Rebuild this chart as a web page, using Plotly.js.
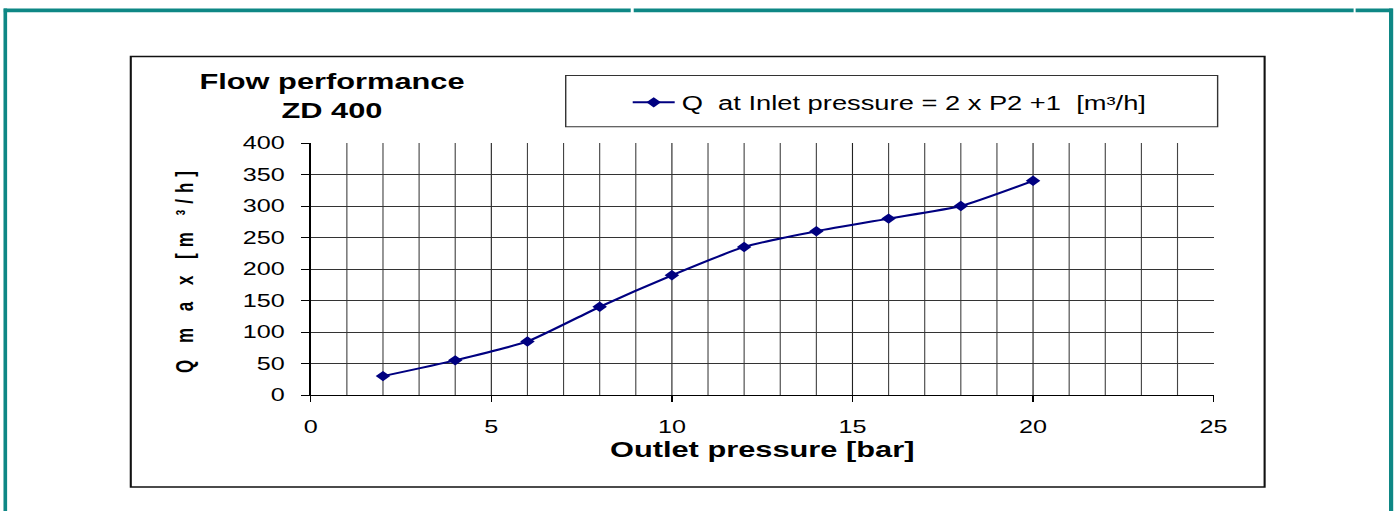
<!DOCTYPE html>
<html>
<head>
<meta charset="utf-8">
<script src="https://cdn.plot.ly/plotly-3.0.1.min.js"></script>
<style>
html,body{margin:0;padding:0;background:#fff;overflow:hidden;}
#wrap{width:1397px;height:511px;overflow:hidden;position:relative;}
#chart{width:998px;height:511px;transform-origin:0 0;transform:scaleX(1.3998);}
#chart .ytitle{letter-spacing:6px;}
</style>
</head>
<body>
<div id="wrap"><div id="chart"></div></div>
<script>
const outletPressure = [2, 4, 6, 8, 10, 12, 14, 16, 18, 20];
const flowQ = [30, 55, 85, 140, 190, 235, 260, 280, 300, 340];
const seriesName = 'Q  at Inlet pressure = 2 x P2 +1  [m³/h]';
const chartTitle = 'Flow performance<br>ZD 400';
const xTitle = 'Outlet pressure [bar]';
const yTitle = 'Q m a x [m ³/h]';

const FONT = '"Liberation Sans", Arial, sans-serif';
const TEAL = '#0e8785';

// helpers: convert reference pixel positions to paper fractions
const px = x => (x - 311) / 903;
const py = y => (395 - y) / 251.7;

const trace = {
  x: outletPressure,
  y: flowQ,
  name: seriesName,
  type: 'scatter',
  mode: 'lines+markers',
  line: {color: '#000080', width: 2, shape: 'spline', smoothing: 0.5},
  marker: {symbol: 'diamond', size: 8, color: '#000080'},
  showlegend: true
};

const layout = {
  width: 998,
  height: 511,
  paper_bgcolor: '#ffffff',
  plot_bgcolor: '#ffffff',
  margin: {l: 222, r: 131, t: 143, b: 116},
  font: {family: FONT, size: 18, color: '#000'},
  title: {
    text: chartTitle,
    x: 332 / 1397, xanchor: 'center',
    y: 1 - 89 / 511, yanchor: 'middle', yref: 'container',
    font: {family: FONT, size: 22, color: '#000', weight: 'bold'}
  },
  xaxis: {
    range: [0, 25],
    dtick: 5, tick0: 0,
    ticks: 'outside', ticklen: 6, tickcolor: '#000', tickwidth: 1,
    ticklabelstandoff: 9,
    showline: true, linecolor: '#000', linewidth: 1,
    showgrid: true, gridcolor: '#222', gridwidth: 0.8,
    minor: {dtick: 1, showgrid: true, gridcolor: '#444', gridwidth: 0.8, ticks: ''},
    zeroline: false,
    tickfont: {family: FONT, size: 18, color: '#000'},
    title: {text: xTitle, standoff: 6, font: {family: FONT, size: 22, color: '#000', weight: 'bold'}}
  },
  yaxis: {
    range: [0, 400],
    dtick: 50, tick0: 0,
    ticks: 'outside', ticklen: 6, tickcolor: '#000', tickwidth: 1,
    ticklabelstandoff: 8,
    showline: true, linecolor: '#000', linewidth: 1,
    showgrid: true, gridcolor: '#333', gridwidth: 1,
    zeroline: false,
    tickfont: {family: FONT, size: 18, color: '#000'},
    title: {text: yTitle, standoff: 30, font: {family: FONT, size: 17, color: '#000', weight: 'bold'}}
  },
  showlegend: true,
  legend: {
    x: px(626), xanchor: 'left',
    y: py(103), yanchor: 'middle',
    bgcolor: 'rgba(0,0,0,0)', borderwidth: 0,
    font: {family: FONT, size: 19.5, color: '#000'}
  },
  shapes: [
    // outer teal frame
    {type: 'line', xref: 'paper', yref: 'paper', x0: px(5.5), x1: px(5.5), y0: py(9), y1: py(530), line: {color: TEAL, width: 2.6}},
    {type: 'line', xref: 'paper', yref: 'paper', x0: px(1391.5), x1: px(1391.5), y0: py(9), y1: py(530), line: {color: TEAL, width: 3}},
    {type: 'line', xref: 'paper', yref: 'paper', x0: px(4), x1: px(631), y0: py(10.8), y1: py(10.8), line: {color: TEAL, width: 3.6}},
    {type: 'line', xref: 'paper', yref: 'paper', x0: px(634), x1: px(1354), y0: py(10.8), y1: py(10.8), line: {color: TEAL, width: 3.6}},
    {type: 'line', xref: 'paper', yref: 'paper', x0: px(1356), x1: px(1393), y0: py(10.8), y1: py(10.8), line: {color: TEAL, width: 3.6}},
    // inner chart box
    {type: 'rect', xref: 'paper', yref: 'paper', x0: px(131), x1: px(1265), y0: py(487), y1: py(57), line: {color: '#111', width: 1.5}, fillcolor: 'rgba(0,0,0,0)', layer: 'below'},
    // legend box
    {type: 'rect', xref: 'paper', yref: 'paper', x0: px(566), x1: px(1218), y0: py(127), y1: py(76), line: {color: '#333', width: 1}, fillcolor: 'rgba(0,0,0,0)'}
  ]
};

Plotly.newPlot('chart', [trace], layout, {displayModeBar: false, staticPlot: true});
</script>
</body>
</html>
